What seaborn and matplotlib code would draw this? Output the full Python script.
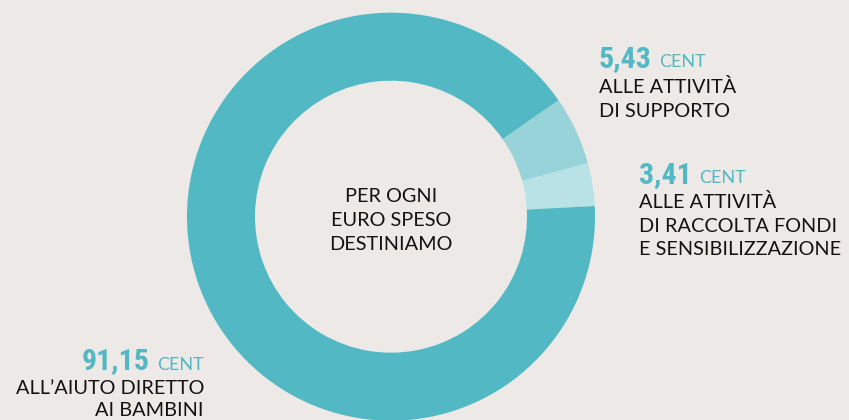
import matplotlib
matplotlib.use("Agg")
import matplotlib.pyplot as plt
import seaborn as sns
from matplotlib import font_manager as fm

# ---- data ----
categories = ["raccolta fondi e sensibilizzazione", "attività di supporto", "aiuto diretto ai bambini"]
values = [3.41, 5.43, 91.15]
value_labels = ["3,41", "5,43", "91,15"]
label_lines = [
    ["ALLE ATTIVITÀ", "DI RACCOLTA FONDI", "E SENSIBILIZZAZIONE"],
    ["ALLE ATTIVITÀ", "DI SUPPORTO"],
    ["ALL\u2019AIUTO DIRETTO", "AI BAMBINI"],
]
center_lines = ["PER OGNI", "EURO SPESO", "DESTINIAMO"]
unit = "CENT"

BG = "#ece9e6"
TEAL = "#52b9c4"
colors = ["#b9e2e6", "#98d3da", TEAL]

sns.set_theme(style="white")
plt.rcParams["font.family"] = ["Lato", "DejaVu Sans"]

avail = {f.name for f in fm.fontManager.ttflist}
num_family = [f for f in ["Liberation Sans Narrow", "Roboto Condensed", "Roboto", "DejaVu Sans"] if f in avail]

W, H = 849, 420
fig = plt.figure(figsize=(W / 100, H / 100), dpi=100, facecolor=BG)
ax = fig.add_axes([0, 0, 1, 1])
ax.set_facecolor(BG)

cx, cy_img, R = 391, 216.7, 204
ax.pie(values, colors=colors, startangle=3, counterclock=True,
       center=(cx, H - cy_img), radius=R,
       wedgeprops=dict(width=R - 136, linewidth=0))
ax.set_xlim(0, W)
ax.set_ylim(0, H)
ax.set_aspect("equal")
ax.axis("off")

renderer = fig.canvas.get_renderer()

def Y(y):
    return H - y

FS_NUM, FS_UNIT, FS_TXT = 21.5, 13, 14.3

def headline(x, y, num, align="left"):
    if align == "left":
        t = ax.text(x, Y(y), num, fontsize=FS_NUM, fontweight="bold", color=TEAL,
                    family=num_family, ha="left", va="baseline")
        bb = t.get_window_extent(renderer)
        ax.text(bb.x1 + 7, Y(y), unit, fontsize=FS_UNIT, color=TEAL,
                ha="left", va="baseline")
    else:
        t = ax.text(x, Y(y), unit, fontsize=FS_UNIT, color=TEAL,
                    ha="right", va="baseline")
        bb = t.get_window_extent(renderer)
        ax.text(bb.x0 - 7, Y(y), num, fontsize=FS_NUM, fontweight="bold", color=TEAL,
                family=num_family, ha="right", va="baseline")

def lines(x, ys, texts, ha="left"):
    for y, s in zip(ys, texts):
        ax.text(x, Y(y), s, fontsize=FS_TXT, color="#111111", ha=ha, va="baseline")

# 5,43
headline(599, 66.7, value_labels[1])
lines(599, [93.3, 116.7], label_lines[1])
# 3,41
headline(639, 183.3, value_labels[0])
lines(639, [208, 231.7, 255], label_lines[0])
# 91,15
headline(204, 369.5, value_labels[2], align="right")
lines(204, [394.5, 416], label_lines[2], ha="right")
# centre
lines(391, [201.7, 225.5, 249.5], center_lines, ha="center")

fig.savefig("out.png", dpi=100, facecolor=BG)
